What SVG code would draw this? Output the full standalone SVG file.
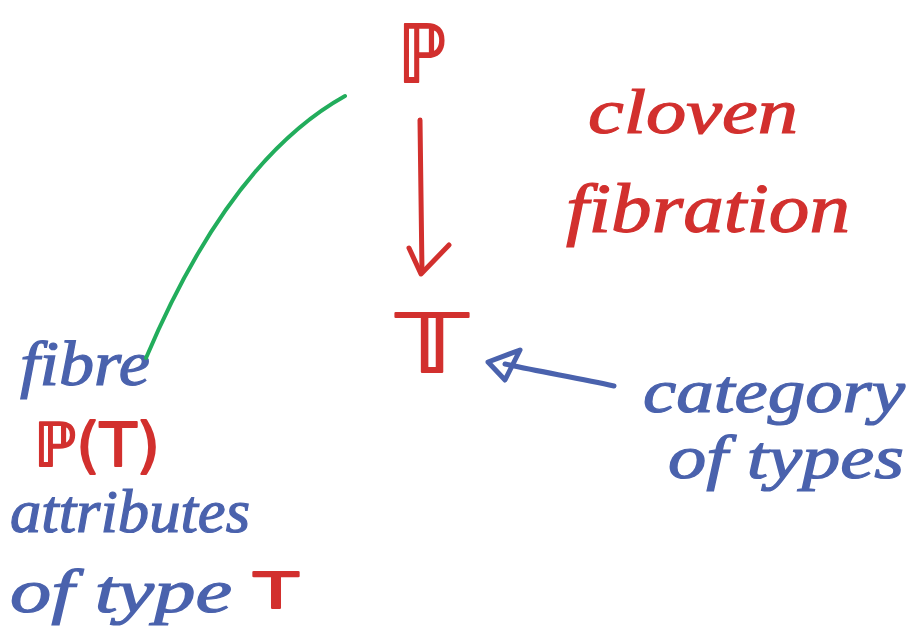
<svg xmlns="http://www.w3.org/2000/svg" width="911" height="636" viewBox="0 0 911 636">
  <style>
    .red { fill: #d2302e; stroke: #d2302e; }
    .blue { fill: #4a62ad; stroke: #4a62ad; }
    .hand { font-family: "Liberation Serif", "DejaVu Serif", serif; font-style: italic; stroke-width: 1.2; }
    .sym { font-family: "DejaVu Sans", "Noto Sans", sans-serif; stroke-width: 2; stroke-linejoin: round; }
    .stroke-red { stroke: #d2302e; fill: none; stroke-width: 5; stroke-linecap: round; stroke-linejoin: round; }
    .stroke-blue { stroke: #4a62ad; fill: none; stroke-width: 5; stroke-linecap: round; stroke-linejoin: round; }
    .stroke-green { stroke: #22ad5c; fill: none; stroke-width: 4; stroke-linecap: round; }
  </style>
  <rect width="911" height="636" fill="#ffffff"/>

  <!-- total category P -->
  <g id="node-P">
    <text class="sym red" x="398" y="82" font-size="80" textLength="48" lengthAdjust="spacingAndGlyphs">ℙ</text>
  </g>

  <!-- base category T -->
  <g id="node-T">
    <text class="sym red" x="396" y="372" font-size="80" textLength="72" lengthAdjust="spacingAndGlyphs">𝕋</text>
  </g>

  <!-- labels -->
  <g id="label-cloven-fibration">
    <text class="hand red" x="588" y="133" font-size="64" textLength="210" lengthAdjust="spacingAndGlyphs">cloven</text>
    <text class="hand red" x="566" y="232" font-size="70" textLength="284" lengthAdjust="spacingAndGlyphs">fibration</text>
  </g>

  <g id="label-category-of-types">
    <text class="hand blue" x="643" y="412" font-size="62" textLength="262" lengthAdjust="spacingAndGlyphs">category</text>
    <text class="hand blue" x="668" y="478" font-size="62" textLength="236" lengthAdjust="spacingAndGlyphs">of types</text>
  </g>

  <g id="label-fibre">
    <text class="hand blue" x="20" y="385" font-size="64" textLength="130" lengthAdjust="spacingAndGlyphs">fibre</text>
    <text class="sym red" x="34" y="466" font-size="60" textLength="126" lengthAdjust="spacingAndGlyphs">ℙ(T)</text>
    <text class="hand blue" x="10" y="532" font-size="62" textLength="240" lengthAdjust="spacingAndGlyphs">attributes</text>
    <text class="hand blue" x="10" y="612" font-size="62" textLength="222" lengthAdjust="spacingAndGlyphs">of type</text>
    <text class="sym red" x="254" y="608" font-size="50" textLength="44" lengthAdjust="spacingAndGlyphs">T</text>
  </g>

  <!-- connectors -->
  <g id="connectors">
    <!-- projection P to T -->
    <path class="stroke-red" d="M420,120 L422,272"/>
    <path class="stroke-red" d="M409,248 L421,274 L449,245"/>
    <!-- pointer from "category of types" to T -->
    <path class="stroke-blue" d="M614,386 C580,378 540,372 505,364"/>
    <path class="stroke-blue" d="M520,350 L488,362 L505,380 Z"/>
    <!-- pointer from fibre label up to P -->
    <path class="stroke-green" d="M345,96 Q230,160 146,358"/>
  </g>
</svg>
